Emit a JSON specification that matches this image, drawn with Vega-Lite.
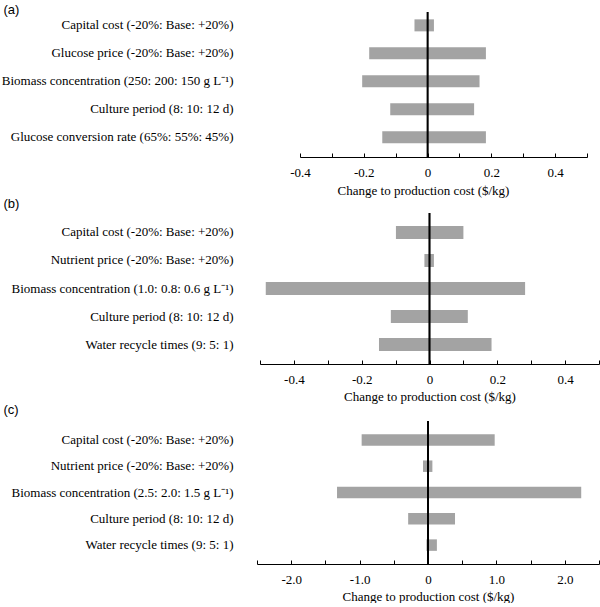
{
  "$schema": "https://vega.github.io/schema/vega-lite/v6.json",
  "padding": {"left": 1, "top": 3, "right": 0, "bottom": 0},
  "background": "white",
  "spacing": 0,
  "config": {
    "view": {"stroke": null},
    "axis": {
      "labelFont": "Liberation Serif",
      "labelFontSize": 13,
      "labelColor": "black",
      "titleFont": "Liberation Serif",
      "titleFontSize": 13,
      "titleFontWeight": "normal",
      "titleColor": "black",
      "domainColor": "black",
      "tickColor": "black",
      "grid": false,
      "labelOverlap": false,
      "labelFlush": false,
      "labelBound": false
    }
  },
  "datasets": {
    "a": [
      {"factor": "Capital cost (-20%: Base: +20%)", "low": -0.041, "high": 0.02},
      {"factor": "Glucose price (-20%: Base: +20%)", "low": -0.183, "high": 0.183},
      {"factor": "Biomass concentration (250: 200: 150 g L⁻¹)", "low": -0.205, "high": 0.163},
      {"factor": "Culture period (8: 10: 12 d)", "low": -0.117, "high": 0.146},
      {"factor": "Glucose conversion rate (65%: 55%: 45%)", "low": -0.142, "high": 0.183}
    ],
    "b": [
      {"factor": "Capital cost (-20%: Base: +20%)", "low": -0.099, "high": 0.1},
      {"factor": "Nutrient price (-20%: Base: +20%)", "low": -0.015, "high": 0.013},
      {"factor": "Biomass concentration (1.0: 0.8: 0.6 g L⁻¹)", "low": -0.483, "high": 0.282},
      {"factor": "Culture period (8: 10: 12 d)", "low": -0.114, "high": 0.113},
      {"factor": "Water recycle times (9: 5: 1)", "low": -0.149, "high": 0.183}
    ],
    "c": [
      {"factor": "Capital cost (-20%: Base: +20%)", "low": -0.97, "high": 0.975},
      {"factor": "Nutrient price (-20%: Base: +20%)", "low": -0.073, "high": 0.064},
      {"factor": "Biomass concentration (2.5: 2.0: 1.5 g L⁻¹)", "low": -1.33, "high": 2.24},
      {"factor": "Culture period (8: 10: 12 d)", "low": -0.29, "high": 0.395},
      {"factor": "Water recycle times (9: 5: 1)", "low": -0.023, "high": 0.13}
    ]
  },
  "vconcat": [
    {
      "width": 330,
      "height": 145,
      "data": {"name": "a"},
      "resolve": {"axis": {"x": "independent"}},
      "layer": [
        {
          "mark": {"type": "bar", "color": "#a3a3a3"},
          "encoding": {
            "y": {
              "field": "factor", "type": "nominal", "sort": null,
              "scale": {"paddingInner": 0.571, "paddingOuter": 0.375, "align": 0.35},
              "axis": {
                "title": "(a)", "titleFont": "Liberation Sans", "titleFontSize": 13,
                "titleAngle": 0, "titleAlign": "left", "titleBaseline": "top",
                "titleX": -254, "titleY": -9,
                "domain": false, "ticks": false, "labelPadding": 24, "labelLimit": 400
              }
            },
            "x": {
              "field": "low", "type": "quantitative",
              "scale": {"domain": [-0.4, 0.5], "range": [43, 330], "nice": false, "zero": false},
              "axis": {
                "title": "Change to production cost ($/kg)",
                "titleX": 166,
                "values": [-0.4, -0.2, 0, 0.2, 0.4],
                "labelExpr": "datum.value == 0 ? '0' : (datum.value < 0 ? '-' : '') + format(abs(datum.value), '.1f')",
                "ticks": false, "labelPadding": 9, "titlePadding": 5
              }
            },
            "x2": {"field": "high"}
          }
        },
        {
          "mark": {"type": "rule", "color": "black", "strokeWidth": 1.3},
          "encoding": {
            "x": {
              "datum": 0,
              "axis": {
                "orient": "bottom", "title": null, "labels": false, "domain": false,
                "values": [-0.4, -0.3, -0.2, -0.1, 0, 0.1, 0.2, 0.3, 0.4, 0.5],
                "tickSize": -4
              }
            }
          }
        }
      ]
    },
    {
      "width": 342,
      "height": 151,
      "data": {"name": "b"},
      "resolve": {"axis": {"x": "independent"}},
      "layer": [
        {
          "mark": {"type": "bar", "color": "#a3a3a3"},
          "encoding": {
            "y": {
              "field": "factor", "type": "nominal", "sort": null,
              "scale": {"paddingInner": 0.536, "paddingOuter": 0.464, "align": 0.5},
              "axis": {
                "title": "(b)", "titleFont": "Liberation Sans", "titleFontSize": 13,
                "titleAngle": 0, "titleAlign": "left", "titleBaseline": "top",
                "titleX": -254, "titleY": -16,
                "domain": false, "ticks": false, "labelPadding": 24, "labelLimit": 400
              }
            },
            "x": {
              "field": "low", "type": "quantitative",
              "scale": {"domain": [-0.5, 0.5], "range": [3, 342], "nice": false, "zero": false},
              "axis": {
                "title": "Change to production cost ($/kg)",
                "values": [-0.4, -0.2, 0, 0.2, 0.4],
                "labelExpr": "datum.value == 0 ? '0' : (datum.value < 0 ? '-' : '') + format(abs(datum.value), '.1f')",
                "ticks": false, "labelPadding": 9, "titlePadding": 4
              }
            },
            "x2": {"field": "high"}
          }
        },
        {
          "mark": {"type": "rule", "color": "black", "strokeWidth": 1.3},
          "encoding": {
            "x": {
              "datum": 0,
              "axis": {
                "orient": "bottom", "title": null, "labels": false, "domain": false,
                "values": [-0.5, -0.4, -0.3, -0.2, -0.1, 0, 0.1, 0.2, 0.3, 0.4, 0.5],
                "tickSize": -4
              }
            }
          }
        }
      ]
    },
    {
      "width": 342,
      "height": 143,
      "data": {"name": "c"},
      "resolve": {"axis": {"x": "independent"}},
      "layer": [
        {
          "mark": {"type": "bar", "color": "#a3a3a3"},
          "encoding": {
            "y": {
              "field": "factor", "type": "nominal", "sort": null,
              "scale": {"paddingInner": 0.563, "paddingOuter": 0.5, "align": 0.5},
              "axis": {
                "title": "(c)", "titleFont": "Liberation Sans", "titleFontSize": 13,
                "titleAngle": 0, "titleAlign": "left", "titleBaseline": "top",
                "titleX": -254, "titleY": -18,
                "domain": false, "ticks": false, "labelPadding": 24, "labelLimit": 400
              }
            },
            "x": {
              "field": "low", "type": "quantitative",
              "scale": {"domain": [-2.5, 2.5], "nice": false, "zero": false},
              "axis": {
                "title": "Change to production cost ($/kg)",
                "values": [-2, -1, 0, 1, 2],
                "labelExpr": "datum.value == 0 ? '0' : (datum.value < 0 ? '-' : '') + format(abs(datum.value), '.1f')",
                "ticks": false, "labelPadding": 9, "titlePadding": 4
              }
            },
            "x2": {"field": "high"}
          }
        },
        {
          "mark": {"type": "rule", "color": "black", "strokeWidth": 1.3},
          "encoding": {
            "x": {
              "datum": 0,
              "axis": {
                "orient": "bottom", "title": null, "labels": false, "domain": false,
                "values": [-2.5, -2, -1.5, -1, -0.5, 0, 0.5, 1, 1.5, 2, 2.5],
                "tickSize": -4
              }
            }
          }
        }
      ]
    }
  ]
}
